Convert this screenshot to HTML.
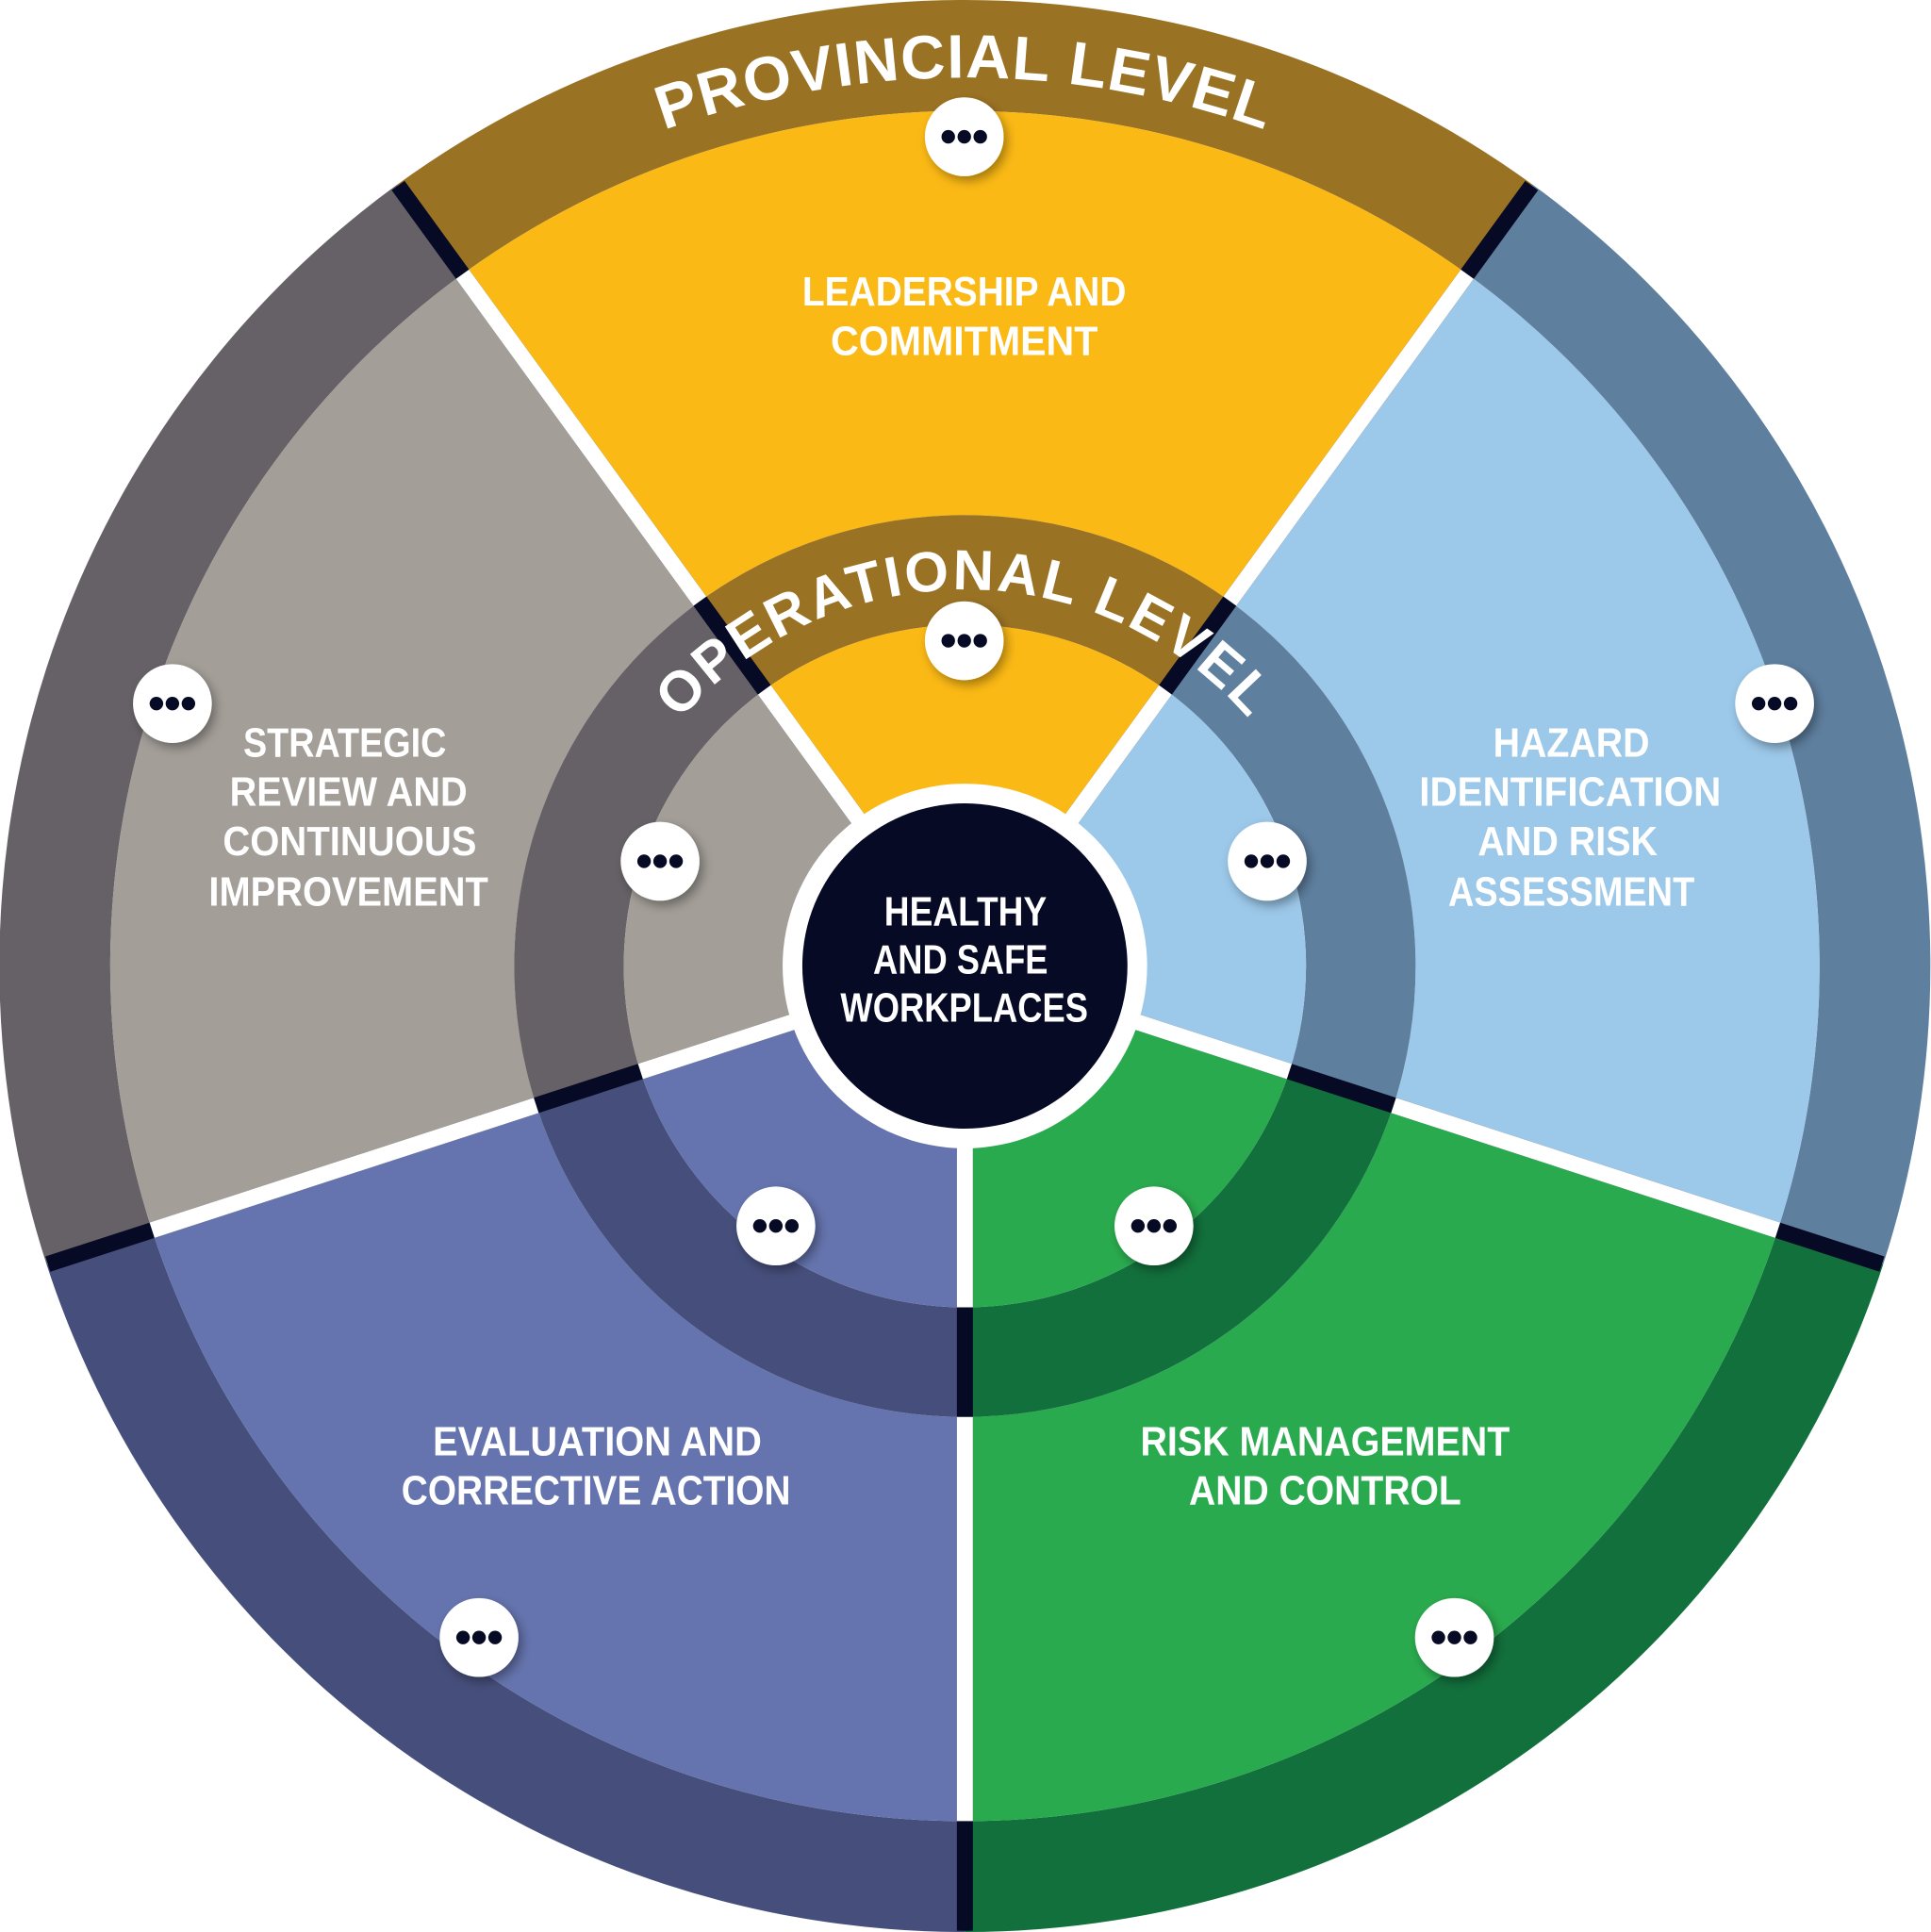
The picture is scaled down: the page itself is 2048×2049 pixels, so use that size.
<!DOCTYPE html>
<html><head><meta charset="utf-8"><style>
html,body{margin:0;padding:0;background:#fff;}
svg{display:block}
.lbl{font-family:"Liberation Sans Narrow","Liberation Sans",sans-serif;font-weight:bold;fill:#fff;font-size:33px;text-anchor:middle}
.arc{font-family:"Liberation Sans","DejaVu Sans",sans-serif;font-weight:bold;fill:#fff}
</style></head><body>
<svg id="s" width="2048" height="2049" viewBox="0 0 1568 1568" preserveAspectRatio="none" xmlns="http://www.w3.org/2000/svg">
<defs>
<filter id="sh" x="-50%" y="-50%" width="200%" height="200%"><feDropShadow dx="3" dy="4" stdDeviation="4" flood-color="#000" flood-opacity="0.35"/></filter>
<path id="pa" d="M 62.5 784 A 721 721 0 0 1 1504.5 784"/>
<path id="oa" d="M 478 784 A 305.5 305.5 0 0 1 1089 784"/>
<clipPath id="cc"><circle cx="783.5" cy="784" r="783"/></clipPath>
</defs>
<g id="shapes"></g>
<g id="lines" clip-path="url(#cc)"></g>
<circle cx="783.5" cy="784" r="148" fill="#fff"/>
<circle cx="783.5" cy="784" r="132" fill="#060a24"/>
<text class="arc" font-size="50" letter-spacing="1"><textPath href="#pa" startOffset="50%" text-anchor="middle">PROVINCIAL LEVEL</textPath></text>
<text class="arc" font-size="46" letter-spacing="2"><textPath href="#oa" startOffset="50%" text-anchor="middle">OPERATIONAL LEVEL</textPath></text>
<g id="btns"></g>
<g class="lbl">
<text x="783" y="248" textLength="263" lengthAdjust="spacingAndGlyphs">LEADERSHIP AND</text>
<text x="783" y="288" textLength="217" lengthAdjust="spacingAndGlyphs">COMMITMENT</text>
<text x="280" y="614" textLength="165" lengthAdjust="spacingAndGlyphs">STRATEGIC</text>
<text x="283" y="654" textLength="193" lengthAdjust="spacingAndGlyphs">REVIEW AND</text>
<text x="284" y="694" textLength="206" lengthAdjust="spacingAndGlyphs">CONTINUOUS</text>
<text x="283" y="735" textLength="227" lengthAdjust="spacingAndGlyphs">IMPROVEMENT</text>
<text x="1276" y="614" textLength="127" lengthAdjust="spacingAndGlyphs">HAZARD</text>
<text x="1275" y="654" textLength="245" lengthAdjust="spacingAndGlyphs">IDENTIFICATION</text>
<text x="1273" y="694" textLength="146" lengthAdjust="spacingAndGlyphs">AND RISK</text>
<text x="1276" y="735" textLength="200" lengthAdjust="spacingAndGlyphs">ASSESSMENT</text>
<text x="485" y="1181" textLength="267" lengthAdjust="spacingAndGlyphs">EVALUATION AND</text>
<text x="484" y="1221" textLength="316" lengthAdjust="spacingAndGlyphs">CORRECTIVE ACTION</text>
<text x="1076" y="1181" textLength="300" lengthAdjust="spacingAndGlyphs">RISK MANAGEMENT</text>
<text x="1076" y="1221" textLength="221" lengthAdjust="spacingAndGlyphs">AND CONTROL</text>
<text x="784" y="751" textLength="132" lengthAdjust="spacingAndGlyphs">HEALTHY</text>
<text x="780" y="790" textLength="142" lengthAdjust="spacingAndGlyphs">AND SAFE</text>
<text x="783" y="829" textLength="201" lengthAdjust="spacingAndGlyphs">WORKPLACES</text>
</g>
</svg>
<script>
var cx=783.5,cy=784,NS="http://www.w3.org/2000/svg";
function pt(r,a){var t=a*Math.PI/180;return [cx+r*Math.sin(t),cy-r*Math.cos(t)];}
function ring(r1,r2,a1,a2,fill){
 var p1=pt(r2,a1),p2=pt(r2,a2),p3=pt(r1,a2),p4=pt(r1,a1);
 var d="M"+p1+" A"+r2+" "+r2+" 0 0 1 "+p2+" L"+p3+" A"+r1+" "+r1+" 0 0 0 "+p4+"Z";
 var e=document.createElementNS(NS,"path");e.setAttribute("d",d);e.setAttribute("fill",fill);
 document.getElementById("shapes").appendChild(e);}
var dark=["#9a7224","#5f7f9f","#12703c","#464f7c","#666166"];
var light=["#fbb915","#9cc8e9","#2aaa4e","#6574ae","#a39e98"];
for(var i=0;i<5;i++){var a1=-36+72*i,a2=a1+72;
 ring(694,784,a1,a2,dark[i]);ring(366,694,a1,a2,light[i]);ring(277,366,a1,a2,dark[i]);ring(140,277,a1,a2,light[i]);}
function ln(r1,r2,a,c){var p=pt(r1,a),q=pt(r2,a);var e=document.createElementNS(NS,"line");
 e.setAttribute("x1",p[0]);e.setAttribute("y1",p[1]);e.setAttribute("x2",q[0]);e.setAttribute("y2",q[1]);
 e.setAttribute("stroke",c);e.setAttribute("stroke-width","13");document.getElementById("lines").appendChild(e);}
for(var i=0;i<5;i++){var a=-36+72*i;ln(140,790,a,"#060a24");ln(140,277,a,"#fff");ln(366,694,a,"#fff");}
var bs=[[783,111],[783,520],[140,571],[1441,571],[536,699],[1029,699],[630,995],[937,995],[389,1329],[1181,1329]];
var g=document.getElementById("btns"),h="";
bs.forEach(function(b){h+='<g><circle cx="'+b[0]+'" cy="'+b[1]+'" r="32" fill="#fff" filter="url(#sh)"/>';
 [-13,0,13].forEach(function(o){h+='<circle cx="'+(b[0]+o)+'" cy="'+b[1]+'" r="5.5" fill="#060a24"/>';});h+='</g>';});
g.innerHTML=h;
</script>
</body></html>
